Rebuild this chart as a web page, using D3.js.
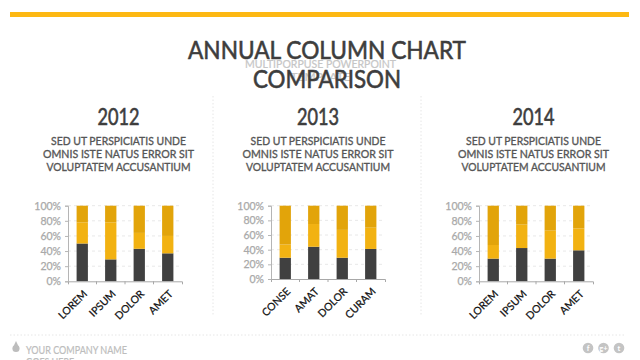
<!DOCTYPE html>
<html>
<head>
<meta charset="utf-8">
<script src="https://cdn.jsdelivr.net/npm/d3@7"></script>
<style>
    html, body { margin: 0; padding: 0; background: #fff; }
    svg { display: block; }
    text { font-family: Lato, sans-serif; }
</style>
</head>
<body>
<svg id="chart" width="640" height="360"></svg>
<script>
const years = ["2012", "2013", "2014"]
const cats2012 = ["LOREM", "IPSUM", "DOLOR", "AMET"]
const cats2013 = ["CONSE", "AMAT", "DOLOR", "CURAM"]
const cats2014 = ["LOREM", "IPSUM", "DOLOR", "AMET"]

// bottom / middle / top segment of each column, percent
const low2012 = [50, 29, 43, 37]
const mid2012 = [28, 49, 21, 23]
const top2012 = [22, 22, 36, 40]
const low2013 = [29, 44, 29, 41]
const mid2013 = [18, 31, 38, 29]
const top2013 = [53, 25, 33, 30]
const low2014 = [30, 44, 30, 41]
const mid2014 = [18, 31, 37, 29]
const top2014 = [52, 25, 33, 30]

const yTicks = [0, 20, 40, 60, 80, 100]
const blurb = ["SED UT PERSPICIATIS UNDE", "OMNIS ISTE NATUS ERROR SIT", "VOLUPTATEM ACCUSANTIUM"]
const titleLines = ["ANNUAL COLUMN CHART", "COMPARISON"]
const subtitleLines = ["MULTIPORPUSE POWERPOINT", "TEMPLATE"]
const footerLines = ["YOUR COMPANY NAME", "GOES HERE"]

const colors = {low: "#404040", mid: "#f2b212", top: "#e2a40a"}
const keys = ["low", "mid", "top"]

const svg = d3.select("#chart")

// fits a string to a measured width, the original font isn't installed
// a thin stroke brings Lato up to the weight of the reference
function fitted(parent, str, x, y, size, width, fill, heavy=0, anchor="middle") {
    return parent.append("text")
        .attr("x", x)
        .attr("y", y)
        .attr("text-anchor", anchor)
        .attr("font-size", size)
        .attr("fill", fill)
        .attr("stroke", fill)
        .attr("stroke-width", heavy)
        .attr("textLength", width)
        .attr("lengthAdjust", "spacingAndGlyphs")
        .text(str)
}

// Header

svg.append("rect")
    .attr("x", 10).attr("y", 12)
    .attr("width", 619).attr("height", 5)
    .attr("fill", "#fdb813")

fitted(svg, subtitleLines[0], 320.5, 68, 11, 151, "#c6c6c6", 0.2)
fitted(svg, subtitleLines[1], 320.5, 81, 11, 60, "#c6c6c6", 0.2)
fitted(svg, titleLines[0], 327, 59, 25, 278, "#3d3d3d", 0.6)
fitted(svg, titleLines[1], 327, 88, 25, 148, "#3d3d3d", 0.6)

// Separators

const dotted = (x1, y1, x2, y2) => svg.append("line")
    .attr("x1", x1).attr("y1", y1)
    .attr("x2", x2).attr("y2", y2)
    .attr("stroke", "#e6e6e6")
    .attr("stroke-dasharray", "1.5 2")

dotted(213, 96, 213, 316)
dotted(421, 96, 421, 316)
dotted(10, 335, 625, 335)

// Panels

const panels = [
    {year: years[0], cx: 118.5, left: 68, right: 182, top: 205.7, bottom: 281.3, cats: cats2012, low: low2012, mid: mid2012, high: top2012},
    {year: years[1], cx: 318, left: 271, right: 385, top: 205.7, bottom: 279, cats: cats2013, low: low2013, mid: mid2013, high: top2013},
    {year: years[2], cx: 533.5, left: 479, right: 593, top: 205.7, bottom: 281.3, cats: cats2014, low: low2014, mid: mid2014, high: top2014},
]

panels.forEach(p => {
    fitted(svg, p.year, p.cx, 125, 23, 42, "#3d3d3d", 0.6)

    const widths = [135, 151, 144]
    blurb.forEach((line, i) => {
        fitted(svg, line, p.cx, 145 + i * 13, 11.5, widths[i], "#565656", 0.35)
    })

    const band = d3.scaleBand().domain(p.cats).range([p.left, p.right])
    const y = d3.scaleLinear().domain([0, 100]).range([p.bottom, p.top])

    const rows = p.cats.map((c, i) => ({cat: c, low: p.low[i], mid: p.mid[i], top: p.high[i]}))
    const series = d3.stack().keys(keys)(rows)

    // Gridlines
    svg.append("g")
        .selectAll("line")
        .data(yTicks.filter(d => d > 0))
        .join("line")
        .attr("x1", p.left).attr("x2", p.right)
        .attr("y1", d => y(d)).attr("y2", d => y(d))
        .attr("stroke", "#e8e8e8")
        .attr("stroke-dasharray", "3 3")

    // Columns
    svg.append("g")
        .selectAll("g")
        .data(series)
        .join("g")
        .attr("fill", d => colors[d.key])
        .selectAll("rect")
        .data(d => d)
        .join("rect")
        .attr("x", d => band(d.data.cat) + (band.bandwidth() - 11.3) / 2)
        .attr("width", 11.3)
        .attr("y", d => y(d[1]))
        .attr("height", d => y(d[0]) - y(d[1]))

    // Axes
    const yAxis = svg.append("g")
        .attr("transform", `translate(${p.left},0)`)
        .call(d3.axisLeft(y).tickValues(yTicks).tickFormat(d => d + "%").tickSize(3).tickPadding(4))
    yAxis.select(".domain").attr("stroke", "#b5b5b5")
    yAxis.selectAll(".tick line").attr("stroke", "#b5b5b5")
    yAxis.selectAll("text")
        .attr("font-family", "Lato, sans-serif")
        .attr("font-size", 10.5)
        .attr("fill", "#a9a9a9")
        .attr("stroke", "#a9a9a9")
        .attr("stroke-width", 0.25)

    const xAxis = svg.append("g")
        .attr("transform", `translate(0,${p.bottom})`)
        .call(d3.axisBottom(band).tickSize(0).tickSizeOuter(3).tickPadding(9))
    xAxis.select(".domain").attr("stroke", "#a8a8a8")
    xAxis.selectAll(".tick line").remove()
    xAxis.selectAll("text")
        .attr("font-family", "Lato, sans-serif")
        .attr("font-size", 10.5)
        .attr("fill", "#111")
        .attr("stroke", "#111")
        .attr("stroke-width", 0.25)
        .attr("text-anchor", "end")
        .attr("dx", "-0.5em")
        .attr("dy", "0.42em")
        .attr("transform", "rotate(-45)")

    // tick marks sit between the bands
    svg.append("g")
        .selectAll("line")
        .data(p.cats.slice(1))
        .join("line")
        .attr("x1", d => band(d)).attr("x2", d => band(d))
        .attr("y1", p.bottom).attr("y2", p.bottom + 3)
        .attr("stroke", "#a8a8a8")
})

// Footer

svg.append("path")
    .attr("transform", "translate(16,348.5)")
    .attr("d", d3.symbol(d3.symbolCircle, 40)())
    .attr("fill", "#bdbdbd")
svg.append("path")
    .attr("transform", "translate(16,345) scale(1,1.2)")
    .attr("d", d3.symbol(d3.symbolTriangle, 14)())
    .attr("fill", "#bdbdbd")

fitted(svg, footerLines[0], 26, 353.5, 10.5, 101, "#bdbdbd", 0.2, "start")
fitted(svg, footerLines[1], 26, 365.5, 10.5, 48, "#bdbdbd", 0.2, "start")

const socialIcons = ["f", "g+", "t"]
const iconX = d3.scalePoint().domain(socialIcons).range([588, 619])
svg.append("g")
    .selectAll("circle")
    .data(socialIcons)
    .join("circle")
    .attr("cx", d => iconX(d))
    .attr("cy", 348)
    .attr("r", 5.3)
    .attr("fill", "#c4c4c4")
svg.append("g")
    .selectAll("text")
    .data(socialIcons)
    .join("text")
    .attr("x", d => iconX(d))
    .attr("y", 351)
    .attr("text-anchor", "middle")
    .attr("font-size", 7.5)
    .attr("font-weight", 700)
    .attr("fill", "#fff")
    .text(d => d)
</script>
</body>
</html>
